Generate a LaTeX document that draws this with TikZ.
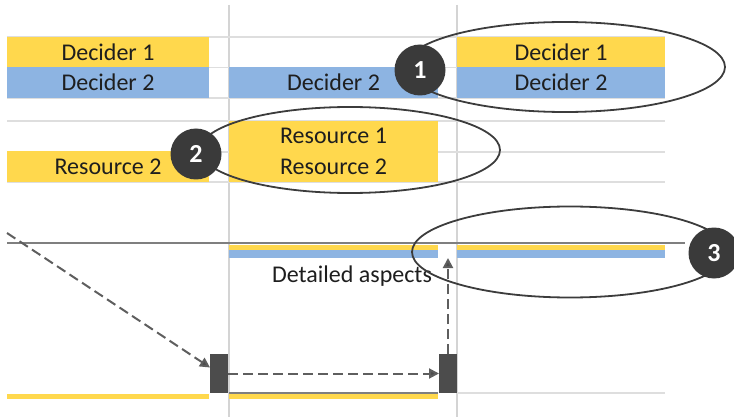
\documentclass[tikz,border=0pt]{standalone}
\usepackage{fontspec}
\setmainfont{Carlito}
\usetikzlibrary{arrows.meta,shapes.geometric}
\definecolor{ybar}{HTML}{FFD84D}
\definecolor{bbar}{HTML}{8DB4E2}
\definecolor{badgec}{HTML}{3A3A3A}
\definecolor{gridc}{HTML}{DEDEDE}
\definecolor{vgridc}{HTML}{D4D4D4}
\definecolor{txtc}{HTML}{1E1E1E}
\definecolor{linec}{HTML}{7F7F7F}
\definecolor{dashc}{HTML}{5E5E5E}
\definecolor{boxc}{HTML}{4C4C4C}
\definecolor{ellc}{HTML}{3C3C3C}
\begin{document}
\begin{tikzpicture}[x=1pt,y=-1pt,
  lbl/.style={font=\fontsize{24}{28}\selectfont, text=txtc},
  barbox/.style={lbl, anchor=north west, inner sep=0pt, outer sep=0pt, minimum height=30.5pt},
  ybox/.style={barbox, fill=ybar},
  bbox/.style={barbox, fill=bbar},
  thin/.style={anchor=north west, inner sep=0pt, outer sep=0pt},
  gridline/.style={gridc, line width=1.5pt},
  vgrid/.style={vgridc, line width=1.2pt},
  ring/.style={draw=ellc, line width=1.8pt, ellipse, inner sep=0pt},
  badge/.style={circle, fill=badgec, text=white, inner sep=0pt, minimum size=51pt,
    font=\fontsize{26}{30}\selectfont\bfseries},
  marker/.style={fill=boxc, anchor=north west, inner sep=0pt, outer sep=0pt, minimum width=18pt, minimum height=39pt},
  dasharrow/.style={dashc, line width=2pt, dash pattern=on 10pt off 5pt,
    -{Triangle[length=10pt,width=10pt,fill=boxc]}}
]
\useasboundingbox (0,0) rectangle (734,417);

% grid
\coordinate (v1t) at (229,5);  \coordinate (v1b) at (229,417);
\coordinate (v2t) at (457,5);  \coordinate (v2b) at (457,417);
\draw[vgrid] (v1t) -- (v1b);
\draw[vgrid] (v2t) -- (v2b);
\foreach \yy/\nm in {37/ga,67.5/gb,98/gc,121/gd,152/ge,182/gf}{
  \coordinate (\nm l) at (7,\yy); \coordinate (\nm r) at (665,\yy);
  \draw[gridline] (\nm l) -- (\nm r);
}

% decider bars
\node[ybox, minimum width=202pt] (d1a) at (7,37) {Decider 1};
\node[bbox, minimum width=202pt] (d2a) at (7,67.5) {Decider 2};
\node[bbox, minimum width=209pt] (d2b) at (229,67.5) {Decider 2};
\node[ybox, minimum width=208pt] (d1c) at (457,37) {Decider 1};
\node[bbox, minimum width=208pt] (d2c) at (457,67.5) {Decider 2};

% resource bars
\node[ybox, minimum width=209pt] (r1b) at (229,121) {Resource 1};
\node[ybox, minimum width=209pt] (r2b) at (229,151.5) {Resource 2};
\node[ybox, minimum width=202pt] (r2a) at (7,151.5) {Resource 2};

% timeline
\coordinate (t0) at (7,243);
\coordinate (t1) at (685,243);
\draw[linec, line width=2pt] (t0) -- (t1);
\node[thin, fill=ybar, minimum width=209pt, minimum height=5.5pt] (ty2) at (229,244.5) {};
\node[thin, fill=bbar, minimum width=209pt, minimum height=8pt] (tb2) at (229,250) {};
\node[thin, fill=ybar, minimum width=208pt, minimum height=5.5pt] (ty3) at (457,244.5) {};
\node[thin, fill=bbar, minimum width=208pt, minimum height=8pt] (tb3) at (457,250) {};
\node[lbl] (det) at (352,276) {Detailed aspects};

% bottom lines
\node[thin, fill=ybar, minimum width=202pt, minimum height=5.5pt] (by1) at (7,393.5) {};
\node[thin, fill=ybar, minimum width=209pt, minimum height=5.5pt] (by2) at (229,393.5) {};
\coordinate (bg2l) at (229,393); \coordinate (bg2r) at (438,393);
\draw[linec, line width=1.5pt] (bg2l) -- (bg2r);
\coordinate (bg3l) at (457,393); \coordinate (bg3r) at (665,393);
\draw[gridc, line width=1.5pt] (bg3l) -- (bg3r);

% markers
\node[marker] (k1) at (210,354) {};
\node[marker] (k2) at (439,354) {};

% dashed arrows
\coordinate (s0) at (7,233);
\draw[dasharrow] (s0) -- ([yshift=6pt]k1.west);
\draw[dasharrow] (k1.east) -- (k2.west);
\draw[dasharrow] (k2.north) -- (k2.north |- tb2.south);

% ellipses
\node[ring, minimum width=320pt, minimum height=90pt] (e1) at (565,67) {};
\node[ring, minimum width=300pt, minimum height=86pt] (e2) at (350,150) {};
\node[ring, minimum width=316pt, minimum height=91pt] (e3) at (570,252) {};

% badges
\node[badge] (b1) at (420,70) {1};
\node[badge] (b2) at (196,154) {2};
\node[badge] (b3) at (714,253) {3};
\end{tikzpicture}
\end{document}
